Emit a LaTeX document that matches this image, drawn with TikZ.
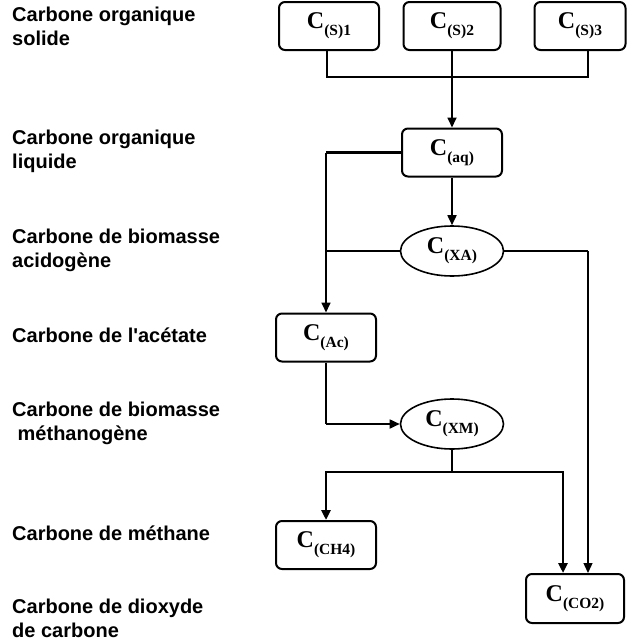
\documentclass[tikz,border=0pt]{standalone}
\usepackage{fontspec}
\setmainfont{Liberation Serif}
\newfontfamily\labfont{Liberation Sans}
\usetikzlibrary{arrows.meta,shapes.geometric}
\newcommand{\Csub}[1]{\fontsize{24}{24}\selectfont\bfseries C\raisebox{-7pt}{\fontsize{15.5}{15.5}\selectfont\bfseries #1}}
\begin{document}
\begin{tikzpicture}[x=1pt,y=-1pt,
 box/.style={draw,rounded corners=6pt,line width=2pt,minimum width=100pt,minimum height=48pt,inner sep=0pt},
 ell/.style={draw,ellipse,line width=1.6pt,minimum width=103pt,minimum height=50pt,inner sep=0pt},
 lab/.style={anchor=base west,align=left,font=\labfont\bfseries\fontsize{20}{23.5}\selectfont,inner sep=0pt},
 tk/.style={line width=2.6pt},
 md/.style={line width=1.7pt},
 tn/.style={line width=1.3pt},
 arr/.style={-{Triangle[length=10pt,width=9pt]}}]
\useasboundingbox (0,0) rectangle (627,643);
% nodes
\node[box] (s1) at (329,26) {\Csub{(S)1}};
\node[box,minimum width=97pt] (s2) at (452,26) {\Csub{(S)2}};
\node[box,minimum width=91pt] (s3) at (580,26) {\Csub{(S)3}};
\node[box] (aq) at (452,152.5) {\Csub{(aq)}};
\node[ell] (xa) at (452,251) {\Csub{(XA)}};
\node[box] (ac) at (326,337.5) {\Csub{(Ac)}};
\node[ell] (xm) at (452,424) {\Csub{(XM)}};
\node[box] (ch4) at (326,545) {\Csub{(CH4)}};
\node[box,minimum width=98pt,minimum height=49pt] (co2) at (575,598.5) {\Csub{(CO2)}};
% labels (base anchor = baseline of last line)
\node[lab] (l1) at (12,45) {Carbone organique\\solide};
\node[lab] (l2) at (12,168) {Carbone organique\\liquide};
\node[lab] (l3) at (12,267) {Carbone de biomasse\\acidogène};
\node[lab] (l4) at (12,342) {Carbone de l\textquotesingle acétate};
\node[lab] (l5) at (12,440) {Carbone de biomasse\\\hspace*{5.5pt}méthanogène};
\node[lab] (l6) at (12,540) {Carbone de méthane};
\node[lab] (l7) at (12,637) {Carbone de dioxyde\\de carbone};
% coordinates
\coordinate (jS) at (452,77);
\coordinate (jM) at (452,472);
\coordinate (co2l) at ([xshift=-12pt]co2.north);
\coordinate (co2r) at ([xshift=13pt]co2.north);
% connectors
\draw[tk] ([xshift=-2pt]s1.south) |- (jS) -| ([xshift=8pt]s3.south);
\draw[md,arr] (s2.south) -- (aq.north);
\draw[tk] (aq.west) -- (aq.west -| ac.north) coordinate (jA);
\draw[md,arr] (jA) -- (ac.north);
\draw[md,arr] (aq.south) -- (xa.north);
\draw[tn] (xa.west) -- (xa.west -| ac.north);
\draw[tk] (xa.east) -- (xa.east -| co2r) coordinate (jX);
\draw[tn,arr] (jX) -- (co2r);
\draw[tk] (ac.south) -- (ac.south |- xm.west) coordinate (jC);
\draw[md,arr] (jC) -- (xm.west);
\draw[md] (xm.south) -- (jM);
\draw[tk,arr] (jM) -| (ch4.north);
\draw[tk,arr] (jM) -| (co2l);
\end{tikzpicture}
\end{document}
